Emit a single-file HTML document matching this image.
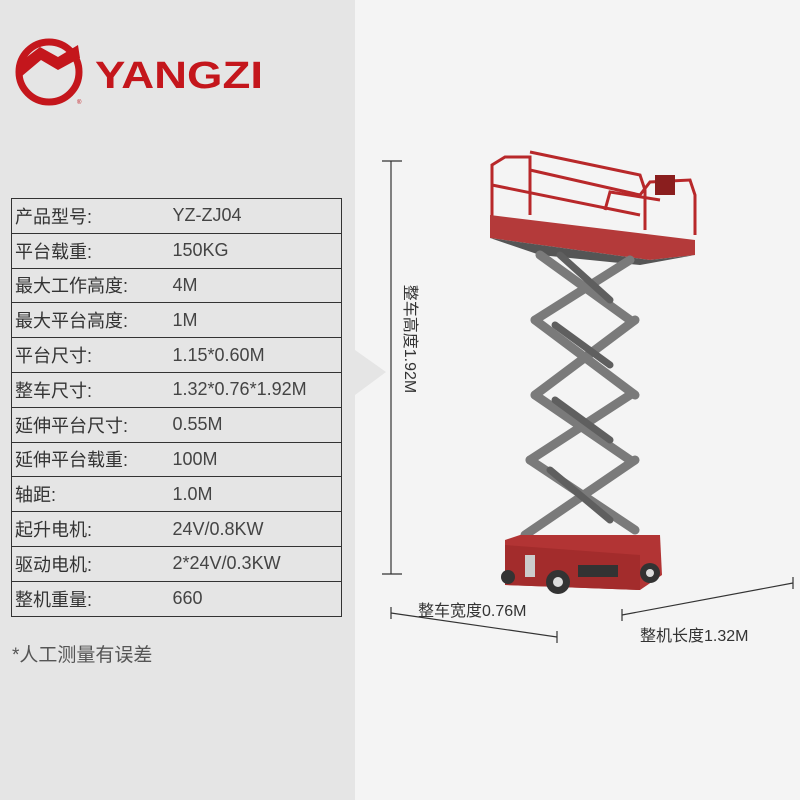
<!DOCTYPE html>
<html><head><meta charset="utf-8"><style>
*{margin:0;padding:0;box-sizing:border-box}
body{width:800px;height:800px;position:relative;background:#f4f4f4;font-family:"Liberation Sans","Noto Sans CJK SC",sans-serif;overflow:hidden}
#left{position:absolute;left:0;top:0;width:355px;height:800px;background:#e5e5e5}
table{position:absolute;left:11px;top:198px;width:331px;border-collapse:collapse}
td{border:1px solid #333;height:34.8px;font-size:18px;color:#333;padding:0 0 0 3px;vertical-align:middle;border-left:1px solid #333;border-right:1px solid #333}
td.k{border-right:none;width:161px}
td.v{border-left:none;padding-left:0;color:#444}
.note{position:absolute;left:12px;top:640px;font-size:19px;color:#555}
.lbl{position:absolute;font-size:15px;color:#333;white-space:nowrap}
</style></head><body>
<div id="left"></div>
<svg style="position:absolute;left:0;top:0" width="800" height="800">
<polygon points="355,350 386,372 355,395" fill="#e5e5e5"/>
<!-- logo -->
<circle cx="49" cy="72" r="30" fill="none" stroke="#c4161c" stroke-width="7"/>
<path d="M18,70 L23,60 L40,47 L58,57 L78,45 L80,58 L58,70 L41,60 L22,76Z" fill="#c4161c"/>
<text x="95" y="88" font-family="Liberation Sans" font-weight="bold" font-size="38" fill="#c4161c" textLength="168" lengthAdjust="spacingAndGlyphs">YANGZI</text>
<text x="77" y="104" font-size="6" fill="#c4161c">®</text>
<!-- dimension lines -->
<g stroke="#333" stroke-width="1.2">
<line x1="391" y1="161" x2="391" y2="574"/><line x1="382" y1="161" x2="402" y2="161"/><line x1="382" y1="574" x2="402" y2="574"/>
<line x1="391" y1="613" x2="557" y2="637"/><line x1="391" y1="607" x2="391" y2="619"/><line x1="557" y1="631" x2="557" y2="643"/>
<line x1="622" y1="615" x2="793" y2="583"/><line x1="622" y1="609" x2="622" y2="621"/><line x1="793" y1="577" x2="793" y2="589"/>
</g>
<!-- machine -->
<g fill="none" stroke="#b8282a" stroke-width="3">
<path d="M492,220 L492,165 L505,157 L530,157 L530,215"/>
<path d="M530,152 L640,175 L645,190 L645,230"/>
<path d="M492,185 L640,215"/>
<path d="M530,170 L640,195 L650,182 L690,180 L695,195 L695,235"/>
<path d="M605,210 L610,192 L660,200"/>
</g>
<rect x="655" y="175" width="20" height="20" fill="#8a1e1e"/>
<polygon points="490,215 695,240 695,255 650,260 490,238" fill="#b43a3a"/>
<polygon points="490,238 650,260 695,255 640,265 540,255" fill="#555"/>
<g stroke="#7a7a7a" stroke-width="9" stroke-linecap="round">
<line x1="540" y1="255" x2="630" y2="320"/><line x1="630" y1="260" x2="535" y2="320"/>
<line x1="535" y1="320" x2="635" y2="395"/><line x1="635" y1="320" x2="535" y2="395"/>
<line x1="535" y1="395" x2="630" y2="460"/><line x1="630" y1="395" x2="530" y2="460"/>
<line x1="530" y1="460" x2="635" y2="530"/><line x1="635" y1="460" x2="525" y2="535"/>
</g>
<g stroke="#5f5f5f" stroke-width="7" stroke-linecap="round">
<line x1="560" y1="255" x2="610" y2="300"/><line x1="555" y1="325" x2="610" y2="365"/>
<line x1="555" y1="400" x2="610" y2="440"/><line x1="550" y1="470" x2="610" y2="520"/>
</g>
<polygon points="505,540 520,535 660,535 662,575 640,590 505,585" fill="#b23434"/>
<polygon points="505,545 640,555 640,590 505,585" fill="#a32c2c"/>
<rect x="578" y="565" width="40" height="12" fill="#333"/>
<rect x="525" y="555" width="10" height="22" fill="#ccc"/>
<circle cx="558" cy="582" r="12" fill="#333"/><circle cx="558" cy="582" r="5" fill="#ddd"/>
<circle cx="650" cy="573" r="10" fill="#333"/><circle cx="650" cy="573" r="4" fill="#ddd"/>
<circle cx="508" cy="577" r="7" fill="#333"/>
</svg>
<table>
<tr><td class="k">产品型号:</td><td class="v">YZ-ZJ04</td></tr>
<tr><td class="k">平台载重:</td><td class="v">150KG</td></tr>
<tr><td class="k">最大工作高度:</td><td class="v">4M</td></tr>
<tr><td class="k">最大平台高度:</td><td class="v">1M</td></tr>
<tr><td class="k">平台尺寸:</td><td class="v">1.15*0.60M</td></tr>
<tr><td class="k">整车尺寸:</td><td class="v">1.32*0.76*1.92M</td></tr>
<tr><td class="k">延伸平台尺寸:</td><td class="v">0.55M</td></tr>
<tr><td class="k">延伸平台载重:</td><td class="v">100M</td></tr>
<tr><td class="k">轴距:</td><td class="v">1.0M</td></tr>
<tr><td class="k">起升电机:</td><td class="v">24V/0.8KW</td></tr>
<tr><td class="k">驱动电机:</td><td class="v">2*24V/0.3KW</td></tr>
<tr><td class="k">整机重量:</td><td class="v">660</td></tr>
</table>
<div class="note">*人工测量有误差</div>
<div class="lbl" style="left:412px;top:339px;font-size:16px;transform:translate(-50%,-50%) rotate(90deg)">整车高度1.92M</div>
<div class="lbl" style="left:418px;top:597px;font-size:16px">整车宽度0.76M</div>
<div class="lbl" style="left:640px;top:622px;font-size:16px">整机长度1.32M</div>
</body></html>
